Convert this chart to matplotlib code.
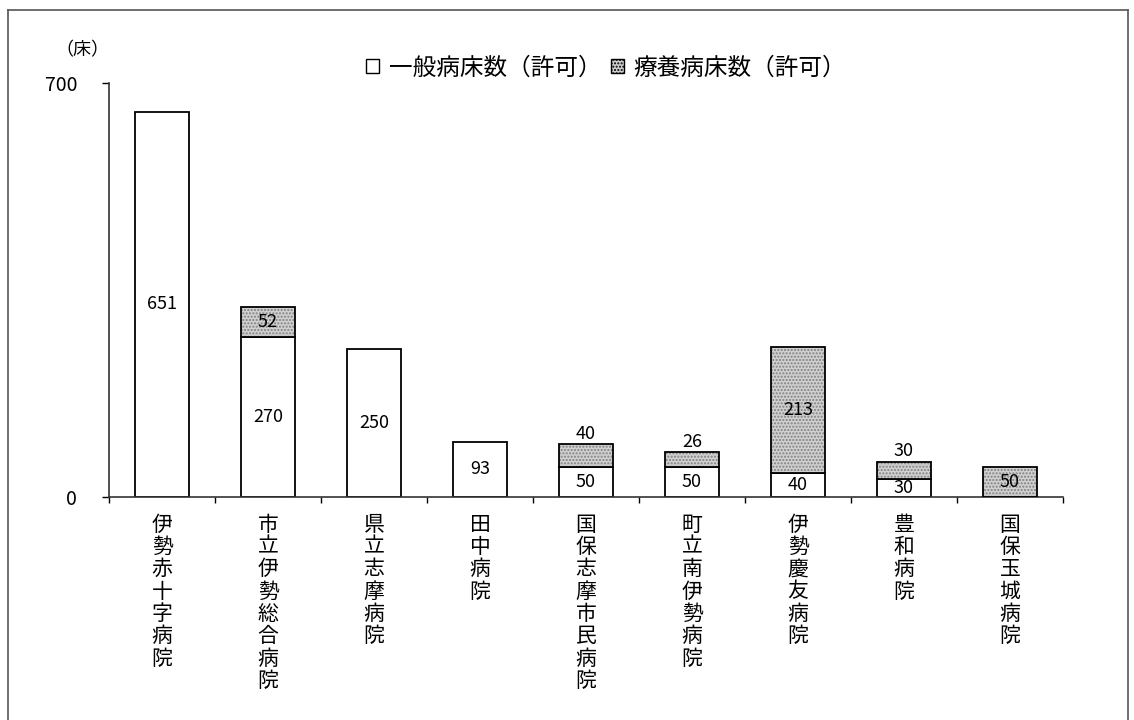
import numpy as np
import matplotlib
matplotlib.use("Agg")
import matplotlib.pyplot as plt
from matplotlib.patches import Patch
from matplotlib.lines import Line2D

plt.rcParams["font.family"] = ["Noto Sans CJK JP", "DejaVu Sans"]

# -----------------------------
# data
# -----------------------------
hospitals = ["伊勢赤十字病院", "市立伊勢総合病院", "県立志摩病院", "田中病院",
             "国保志摩市民病院", "町立南伊勢病院", "伊勢慶友病院", "豊和病院", "国保玉城病院"]
general_beds = [651, 270, 250, 93, 50, 50, 40, 30, 0]
care_beds = [0, 52, 0, 0, 40, 26, 213, 30, 50]

legend_labels = ["一般病床数（許可）", "療養病床数（許可）"]
y_ticks = [0, 700]

# -----------------------------
# figure
# -----------------------------
fig = plt.figure(figsize=(11.34, 7.2), dpi=100)
ax = fig.add_axes([109 / 1134, 1 - 497 / 720, (1063 - 109) / 1134, (497 - 83) / 720])

x = np.arange(len(hospitals))
w = 0.51
gen = np.array(general_beds)
care = np.array(care_beds)

# 一般病床
ax.bar(x, gen, width=w, color="white", edgecolor="black", linewidth=1.3, zorder=2)
# 療養病床 (stippled gray)
ax.bar(x, care, width=w, bottom=gen, color="#d0d0d0", edgecolor="none", zorder=2)
ax.bar(x, care, width=w, bottom=gen, fill=False, hatch=".....", edgecolor="#808080",
       linewidth=0, zorder=3)
ax.bar(x, np.where(care > 0, care, np.nan), width=w, bottom=gen, fill=False,
       edgecolor="black", linewidth=1.3, zorder=4)

# value labels
for i in range(len(hospitals)):
    if gen[i] > 0:
        ax.text(x[i], gen[i] / 2, str(gen[i]), ha="center", va="center",
                fontsize=13, zorder=5)
    if care[i] > 0:
        if care[i] >= 45 or gen[i] == 0:
            ax.text(x[i], gen[i] + care[i] / 2, str(care[i]), ha="center", va="center",
                    fontsize=13, zorder=5)
        else:
            ax.text(x[i], gen[i] + care[i] + 2, str(care[i]), ha="center", va="bottom",
                    fontsize=13, zorder=5)

ax.set_xlim(-0.5, len(hospitals) - 0.5)
ax.set_ylim(0, 700)
ax.set_yticks(y_ticks)
ax.set_yticklabels([str(v) for v in y_ticks], fontsize=14)
ax.tick_params(axis="y", length=5, width=1, pad=18)

ax.set_xticks(x)
ax.set_xticklabels([])
ax.tick_params(axis="x", which="major", length=0)
ax.set_xticks(np.arange(len(hospitals) + 1) - 0.5, minor=True)
ax.tick_params(axis="x", which="minor", length=4, width=1, direction="out")

for s in ["top", "right"]:
    ax.spines[s].set_visible(False)
for s in ["left", "bottom"]:
    ax.spines[s].set_color("#333333")
    ax.spines[s].set_linewidth(1.2)

# vertical category labels
for i, name in enumerate(hospitals):
    ax.text(x[i], -28, "\n".join(name), ha="center", va="top", fontsize=15,
            linespacing=1.02)

# unit label
fig.text(82 / 1134, 1 - 50 / 720, "（床）", ha="center", va="center", fontsize=13)

# legend
handles = [Patch(facecolor="white", edgecolor="black", linewidth=1.0),
           Patch(facecolor="#d0d0d0", edgecolor="black", hatch=".....", linewidth=1.0)]
fig.legend(handles, legend_labels, loc="center", bbox_to_anchor=(606 / 1134, 1 - 68 / 720),
           ncol=2, frameon=False, fontsize=17, handlelength=0.55, handleheight=0.55,
           handletextpad=0.4, columnspacing=0.4)

# outer frame
fig.add_artist(Line2D([8 / 1134, 8 / 1134], [0, 1 - 10 / 720], color="#555555", lw=1.2))
fig.add_artist(Line2D([8 / 1134, 1128 / 1134], [1 - 10 / 720, 1 - 10 / 720], color="#555555", lw=1.2))
fig.add_artist(Line2D([1128 / 1134, 1128 / 1134], [0, 1 - 10 / 720], color="#555555", lw=1.2))

fig.savefig("out.png", dpi=100)
